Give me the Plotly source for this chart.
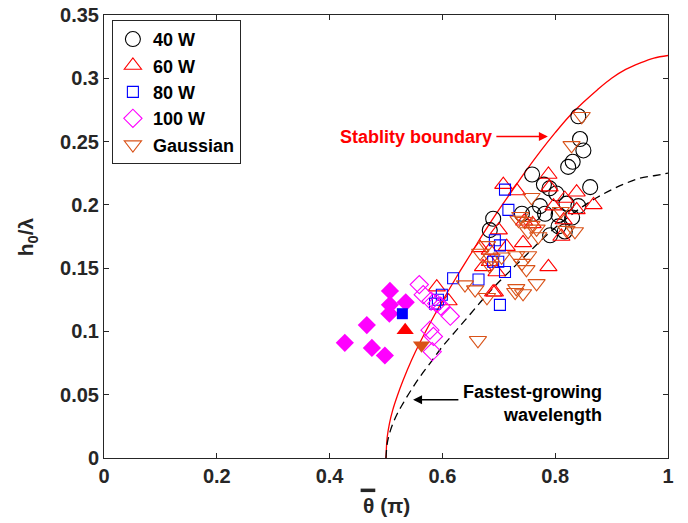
import plotly.graph_objects as go

# ---- data ----
# stability boundary (red solid) and fastest-growing wavelength (black dashed)
curve_x = [0.500, 0.502, 0.506, 0.512, 0.520, 0.530, 0.545, 0.560, 0.580, 0.600, 0.625, 0.650, 0.675,
           0.700, 0.725, 0.750, 0.775, 0.800, 0.825, 0.850, 0.875, 0.900, 0.925, 0.950, 0.975, 1.000]
stab_y = [0.000, 0.016, 0.027, 0.038, 0.049, 0.061, 0.077, 0.091, 0.108, 0.124, 0.143, 0.161, 0.179,
          0.196, 0.212, 0.228, 0.243, 0.257, 0.270, 0.281, 0.291, 0.300, 0.307, 0.312, 0.316, 0.318]
fast_y = [0.000, 0.011, 0.019, 0.027, 0.035, 0.043, 0.054, 0.064, 0.076, 0.088, 0.101, 0.114, 0.127,
          0.139, 0.150, 0.161, 0.172, 0.182, 0.191, 0.199, 0.206, 0.212, 0.217, 0.221, 0.223, 0.225]

w40_x = [0.841, 0.844, 0.850, 0.831, 0.823, 0.759, 0.780, 0.790, 0.802, 0.862, 0.820, 0.841,
         0.741, 0.761, 0.782, 0.806, 0.806, 0.817, 0.791, 0.690, 0.684, 0.773, 0.830]
w40_y = [0.270, 0.252, 0.243, 0.234, 0.230, 0.224, 0.216, 0.213, 0.209, 0.214, 0.201, 0.199,
         0.193, 0.193, 0.193, 0.192, 0.183, 0.179, 0.176, 0.189, 0.180, 0.199, 0.190]

w60_x = [0.708, 0.732, 0.788, 0.790, 0.838, 0.817, 0.868, 0.797, 0.838, 0.815, 0.811, 0.743, 0.714,
         0.684, 0.667, 0.684, 0.696, 0.672, 0.788, 0.690, 0.590, 0.611, 0.693, 0.700, 0.745, 0.760]
w60_y = [0.216, 0.211, 0.224, 0.214, 0.210, 0.205, 0.200, 0.199, 0.196, 0.188, 0.175, 0.170, 0.167,
         0.164, 0.166, 0.155, 0.147, 0.151, 0.151, 0.131, 0.135, 0.124, 0.131, 0.180, 0.187, 0.185]

w80_x = [0.711, 0.717, 0.693, 0.702, 0.690, 0.699, 0.711, 0.664, 0.619, 0.599, 0.587, 0.592, 0.702]
w80_y = [0.212, 0.196, 0.172, 0.168, 0.155, 0.155, 0.147, 0.141, 0.142, 0.129, 0.122, 0.125, 0.121]

w100_x = [0.559, 0.566, 0.580, 0.590, 0.597, 0.614, 0.578, 0.584, 0.582]
w100_y = [0.137, 0.129, 0.124, 0.122, 0.120, 0.112, 0.101, 0.096, 0.084]

gauss_x = [0.847, 0.829, 0.758, 0.738, 0.735, 0.746, 0.758, 0.767, 0.752, 0.770, 0.835, 0.820, 0.679,
           0.667, 0.731, 0.752, 0.741, 0.687, 0.749, 0.767, 0.731, 0.743, 0.705, 0.684, 0.640, 0.658,
           0.679, 0.663, 0.729, 0.810]
gauss_y = [0.270, 0.247, 0.206, 0.191, 0.188, 0.187, 0.184, 0.181, 0.179, 0.175, 0.179, 0.180, 0.168,
           0.162, 0.160, 0.160, 0.154, 0.158, 0.149, 0.138, 0.134, 0.130, 0.159, 0.152, 0.137, 0.133,
           0.127, 0.093, 0.131, 0.195]

# filled (initial) markers
init_dia_x = [0.507, 0.535, 0.507, 0.506, 0.466, 0.427, 0.475, 0.498]
init_dia_y = [0.132, 0.123, 0.121, 0.114, 0.105, 0.091, 0.087, 0.081]
init_sq = (0.529, 0.114)
init_up = (0.534, 0.101)
init_dn = (0.563, 0.089)

ORANGE = '#D95319'
AXC = '#262626'
FONT = 'Liberation Sans, Arial, sans-serif'

fig = go.Figure()

# theory curves
fig.add_trace(go.Scatter(x=curve_x, y=stab_y, mode='lines', line=dict(color='red', width=1.3, shape='spline'),
                         showlegend=False))
fig.add_trace(go.Scatter(x=curve_x, y=fast_y, mode='lines',
                         line=dict(color='black', width=1.3, dash='8px,5px', shape='spline'), showlegend=False))

series = [
    ('40 W', w40_x, w40_y, 'circle-open', 'black', 15),
    ('60 W', w60_x, w60_y, 'triangle-up-open', 'red', 15),
    ('80 W', w80_x, w80_y, 'square-open', 'blue', 11),
    ('100 W', w100_x, w100_y, 'diamond-open', 'magenta', 14),
    ('Gaussian', gauss_x, gauss_y, 'triangle-down-open', ORANGE, 15),
]
for name, xs, ys, sym, col, sz in series:
    fig.add_trace(go.Scatter(x=xs, y=ys, mode='markers', name=name,
                             marker=dict(symbol=sym, color=col, size=sz, line=dict(color=col, width=1.1))))

# filled markers
fig.add_trace(go.Scatter(x=init_dia_x, y=init_dia_y, mode='markers', showlegend=False,
                         marker=dict(symbol='diamond', color='magenta', size=14)))
fig.add_trace(go.Scatter(x=[init_sq[0]], y=[init_sq[1]], mode='markers', showlegend=False,
                         marker=dict(symbol='square', color='blue', size=11)))
fig.add_trace(go.Scatter(x=[init_up[0]], y=[init_up[1]], mode='markers', showlegend=False,
                         marker=dict(symbol='triangle-up', color='red', size=15)))
fig.add_trace(go.Scatter(x=[init_dn[0]], y=[init_dn[1]], mode='markers', showlegend=False,
                         marker=dict(symbol='triangle-down', color=ORANGE, size=15)))

# annotations
fig.add_annotation(x=0.787, y=0.254, ax=0.693, ay=0.254, xref='x', yref='y', axref='x', ayref='y',
                   text='', showarrow=True, arrowhead=2, arrowsize=1.2, arrowwidth=1.5, arrowcolor='red')
fig.add_annotation(x=0.691, y=0.254, xref='x', yref='y', xanchor='right', yanchor='middle', showarrow=False,
                   text='Stablity boundary', font=dict(family=FONT, size=18, color='red', weight='bold'))
fig.add_annotation(x=0.548, y=0.046, ax=0.631, ay=0.046, xref='x', yref='y', axref='x', ayref='y',
                   text='', showarrow=True, arrowhead=2, arrowsize=1.2, arrowwidth=1.5, arrowcolor='black')
fig.add_annotation(x=0.887, y=0.043, xref='x', yref='y', xanchor='right', yanchor='middle', showarrow=False,
                   align='right', text='Fastest-growing<br>wavelength',
                   font=dict(family=FONT, size=18, color='black', weight='bold'))

# axis titles as annotations for exact placement
fig.add_annotation(x=0.5, y=-0.108, xref='paper', yref='paper', xanchor='center', yanchor='middle',
                   showarrow=False, text='θ (π)', font=dict(family=FONT, size=21, color=AXC, weight='bold'))
fig.add_shape(type='line', xref='paper', yref='paper', x0=0.455, x1=0.481, y0=-0.073, y1=-0.073,
              line=dict(color=AXC, width=3.5))
fig.add_annotation(x=-0.137, y=0.5, xref='paper', yref='paper', xanchor='center', yanchor='middle',
                   textangle=-90, showarrow=False, text='h<sub>0</sub>/λ',
                   font=dict(family=FONT, size=21, color=AXC, weight='bold'))

axis_style = dict(showline=True, linecolor=AXC, linewidth=1, mirror='ticks', ticks='inside',
                  ticklen=5, tickcolor=AXC, showgrid=False, zeroline=False, automargin=False,
                  tickfont=dict(family=FONT, size=20, color=AXC, weight='bold'))

fig.update_xaxes(range=[0, 1], dtick=0.2, tick0=0, **axis_style)
fig.update_yaxes(range=[0, 0.35], dtick=0.05, tick0=0, **axis_style)

fig.update_layout(
    width=688, height=523,
    margin=dict(l=104, r=20, t=15, b=65),
    plot_bgcolor='white', paper_bgcolor='white',
    legend=dict(x=0.014, y=0.989, xanchor='left', yanchor='top', bgcolor='white',
                bordercolor=AXC, borderwidth=1, tracegroupgap=0,
                font=dict(family=FONT, size=18, color='black', weight='bold')),
)

# drop the default page margin so the figure sits at the window's top-left corner
fig.write_html("out.html", config={'displayModeBar': False},
               post_script="document.body.style.margin='0px';")
